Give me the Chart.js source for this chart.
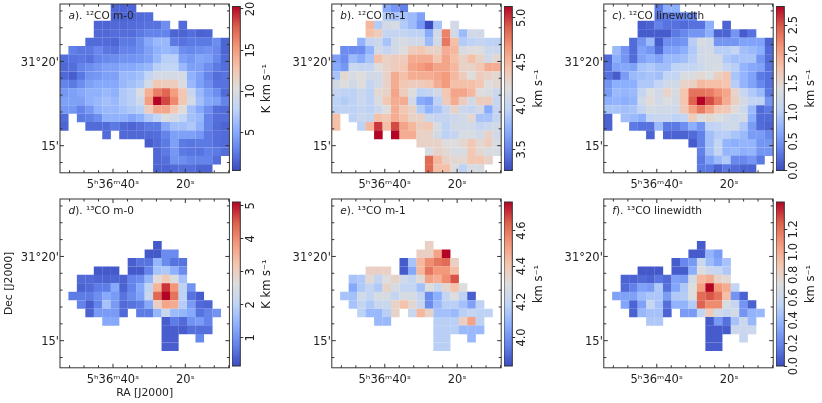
<!DOCTYPE html>
<html>
<head>
<meta charset="utf-8">
<script src="https://cdn.jsdelivr.net/npm/chart.js@4/dist/chart.umd.min.js"></script>
<style>
  body { margin: 0; background: #fff; }
  canvas { position: absolute; }
</style>
</head>
<body>
<script>
const _ = null;

// mapas: filas de arriba a abajo, columnas de izquierda a derecha
const co12M0 = [
  [_,_,_,_,_,_,1.6,1.6,1.6],
  [_,_,_,_,_,_,1.5,1.5,1.6,1.8,1.9],
  [_,_,_,_,1.6,1.6,1.7,1.7,1.8,2.0,2.2,2.2,3.5,_,1.8],
  [_,_,_,_,1.7,1.7,1.9,1.9,1.9,2.5,3.0,3.0,3.0,1.5,1.5,2.0,1.4,1.6],
  [_,_,_,1.8,1.8,1.8,1.6,2.5,2.5,3.5,5.0,6.0,6.0,2.5,2.2,2.5,2.5,2.5,3.5,1.5],
  [_,2.8,2.4,2.4,3.2,2.4,2.2,3.0,3.0,3.5,4.5,5.5,6.0,5.5,3.5,3.2,3.5,3.8,3.2,1.6],
  [1.9,2.2,2.4,2.1,3.0,3.3,3.5,3.8,3.8,4.0,4.5,6.0,7.5,7.5,4.5,4.0,4.8,4.5,3.2,1.8],
  [1.7,1.9,3.0,3.5,4.0,4.5,4.5,5.0,5.0,5.5,6.0,7.5,8.0,8.0,6.0,4.5,4.5,3.5,2.5,2.0],
  [1.7,1.2,2.4,3.8,4.0,4.5,4.5,6.0,6.0,6.5,8.0,9.5,9.5,9.5,9.5,5.5,4.5,3.0,1.9,2.2],
  [3.0,2.5,3.5,4.5,5.0,5.0,5.0,6.0,6.5,7.0,9.5,12.5,12.0,12.0,10.0,6.0,4.5,3.5,2.2,2.2],
  [4.0,4.5,5.0,5.5,5.5,6.0,5.5,7.0,7.5,10.0,14.0,16.5,17.5,15.0,12.5,8.5,6.0,4.5,3.5,1.8],
  [4.5,4.5,4.5,5.5,6.0,6.5,6.0,7.0,7.5,9.0,15.0,20.3,18.5,16.0,12.5,9.5,6.5,5.0,4.5,3.0],
  [4.0,4.0,3.0,4.0,5.5,6.0,6.0,6.5,7.0,7.5,12.0,14.5,14.5,12.5,10.5,6.5,5.0,3.5,2.0,1.8],
  [1.8,_,2.5,2.8,3.5,5.5,5.5,5.5,4.8,5.5,7.0,8.0,10.0,9.5,8.0,6.5,6.0,3.0,2.0,2.0],
  [1.5,_,_,1.8,1.8,1.8,2.5,1.7,1.6,2.0,2.5,2.5,5.0,6.5,6.5,7.0,5.5,3.0,1.8,1.5],
  [_,_,_,_,_,1.8,_,1.7,1.7,1.7,1.8,1.9,3.0,4.5,4.5,4.5,4.0,2.5,2.0,1.8],
  [_,_,_,_,_,_,_,_,_,_,1.2,1.8,2.5,4.5,2.5,2.3,2.5,2.5,2.0,1.8],
  [_,_,_,_,_,_,_,_,_,_,_,1.7,2.5,4.0,2.5,2.3,2.2,2.8,2.5,2.0],
  [_,_,_,_,_,_,_,_,_,_,_,1.7,2.0,3.8,3.5,3.0,3.0,3.0,1.9],
  [_,_,_,_,_,_,_,_,_,_,_,1.5,1.6,1.8,2.0,2.0,1.5,1.5]
];
const co12M1 = [
  [_,_,_,_,_,_,3.7,3.6,3.5],
  [_,_,_,_,_,_,3.9,3.85,3.85,3.8,3.65],
  [_,_,_,_,4.5,3.9,4.1,4.15,3.9,3.8,3.6,3.25,3.85,_,4.1],
  [_,_,_,_,4.45,4.35,4.0,4.0,4.0,3.95,3.95,3.7,4.1,4.75,4.1,3.8,4.1,4.1],
  [_,_,_,3.75,4.0,4.05,3.85,4.1,4.15,4.1,4.1,3.8,4.1,4.8,4.45,3.9,3.95,4.0,3.95,3.95],
  [_,3.55,3.55,3.55,3.75,4.1,4.0,4.1,4.2,4.35,4.4,4.3,4.3,4.55,4.5,4.15,4.2,4.2,4.05,4.05],
  [3.65,3.55,3.8,3.7,3.85,4.45,4.3,4.35,4.35,4.55,4.55,4.55,4.4,4.6,4.45,4.3,4.45,4.3,4.1,4.25],
  [3.7,3.6,4.05,4.0,4.0,4.2,4.3,4.35,4.4,4.6,4.65,4.7,4.6,4.6,4.5,4.3,4.3,4.4,4.55,4.55],
  [3.85,4.25,4.15,4.2,4.1,4.1,4.3,4.55,4.45,4.55,4.55,4.55,4.6,4.65,4.5,4.35,4.2,4.35,4.3,4.25],
  [4.1,4.2,4.1,4.2,4.0,4.1,4.3,4.55,4.4,4.35,4.35,4.4,4.55,4.65,4.45,4.45,4.45,4.4,4.2,4.25],
  [4.0,3.95,3.95,4.05,3.95,4.25,4.3,4.6,4.35,4.2,3.95,4.0,4.1,4.4,4.6,4.6,4.5,4.2,4.15,4.05],
  [3.95,3.9,3.95,4.05,3.95,4.15,4.4,4.55,4.55,4.1,3.7,3.65,3.95,4.35,4.55,4.35,4.1,4.35,4.35,4.0],
  [3.95,3.95,3.95,4.0,3.95,4.05,4.2,4.55,4.4,4.3,3.9,3.75,3.85,4.0,4.3,4.05,4.0,4.1,3.7,4.0],
  [4.45,_,3.95,4.05,4.0,4.45,4.4,4.55,4.45,4.3,4.3,4.05,4.0,4.0,4.05,4.1,4.25,3.85,3.85,4.0],
  [4.45,_,_,3.95,4.5,5.0,4.45,4.95,4.6,4.5,4.35,4.4,4.15,3.95,4.1,4.1,4.1,4.0,4.05,4.1],
  [_,_,_,_,_,5.13,_,5.13,4.55,4.55,4.3,4.3,4.1,3.95,4.0,4.15,4.15,4.1,4.3,4.1],
  [_,_,_,_,_,_,_,_,_,_,4.3,4.3,4.3,4.2,4.2,4.25,4.4,4.25,4.35,4.15],
  [_,_,_,_,_,_,_,_,_,_,_,4.15,4.3,4.25,4.15,4.15,4.4,4.25,4.15,4.15],
  [_,_,_,_,_,_,_,_,_,_,_,4.85,4.5,4.3,4.25,4.25,4.4,4.4,4.3],
  [_,_,_,_,_,_,_,_,_,_,_,4.85,4.45,4.45,4.2,3.95,4.15,4.15]
];
const co12Width = [
  [_,_,_,_,_,_,0.3,0.7,0.7],
  [_,_,_,_,_,_,0.25,0.3,0.35,0.4,0.4],
  [_,_,_,_,0.1,0.15,0.35,0.25,0.25,0.2,0.25,0.25,0.7,_,0.15],
  [_,_,_,_,0.1,0.1,0.1,0.1,0.3,0.4,0.5,0.5,0.7,0.15,0.15,0.5,0.1,0.25],
  [_,_,_,0.2,0.5,0.8,0.1,0.45,0.45,0.5,1.0,1.35,1.25,0.5,0.5,0.5,0.6,0.6,0.6,0.15],
  [_,0.8,0.5,0.2,0.6,0.5,0.2,0.6,0.6,0.7,0.95,1.25,1.3,1.0,1.0,1.1,0.85,0.8,0.7,0.2],
  [0.2,0.7,0.5,0.2,0.6,0.7,0.6,0.8,0.8,0.85,1.0,1.25,1.3,1.3,0.95,0.85,0.9,0.9,0.5,0.2],
  [0.25,0.6,0.65,0.6,0.9,0.95,0.85,0.85,1.05,1.1,1.1,1.2,1.3,1.35,1.1,1.0,0.75,0.65,0.6,0.25],
  [0.25,0.1,0.55,0.8,0.85,0.9,0.85,1.1,1.1,1.35,1.35,1.5,1.4,1.6,1.75,0.9,0.75,0.6,0.3,0.25],
  [0.5,0.7,0.7,0.7,0.95,0.95,1.1,1.25,1.25,1.55,1.6,1.85,1.8,1.8,1.75,1.0,0.75,0.6,0.4,0.25],
  [0.55,0.8,0.75,0.8,1.1,1.4,1.25,1.55,1.35,1.75,2.35,2.35,2.3,2.15,2.0,1.55,1.15,0.95,0.8,0.3],
  [0.7,0.75,0.7,0.75,1.25,1.45,1.25,1.4,1.3,1.75,2.45,2.82,2.55,2.3,1.95,1.6,1.3,1.1,1.05,0.5],
  [0.9,0.9,0.85,0.9,1.1,1.3,1.25,1.25,1.25,1.7,2.05,2.3,2.05,1.75,1.7,1.45,1.2,0.8,0.2,0.3],
  [0.15,_,0.85,0.8,0.7,1.1,1.15,1.15,1.05,1.1,1.65,1.4,1.5,1.4,1.3,1.2,1.3,0.7,0.2,0.2],
  [0.15,_,_,0.3,0.25,0.25,0.8,0.3,0.3,0.45,0.7,0.5,1.05,1.1,1.2,1.25,0.95,0.55,0.2,0.15],
  [_,_,_,_,_,0.15,_,0.15,0.15,0.15,0.2,0.35,0.85,1.0,1.0,0.9,0.8,0.55,0.55,0.4],
  [_,_,_,_,_,_,_,_,_,_,0.1,0.35,0.85,1.1,0.75,0.7,0.75,0.75,0.5,0.5],
  [_,_,_,_,_,_,_,_,_,_,_,0.35,0.85,1.1,0.75,0.8,0.7,0.75,0.5,0.5],
  [_,_,_,_,_,_,_,_,_,_,_,0.3,0.6,0.8,0.95,0.4,0.4,0.5,0.3],
  [_,_,_,_,_,_,_,_,_,_,_,0.3,0.3,0.15,0.3,0.2,0.15,0.15]
];
const co13M0 = [
  [],[],[],[],[],
  [_,_,_,_,_,_,_,_,_,_,_,0.3],
  [_,_,_,_,_,_,_,_,_,_,0.3,0.3,0.9,0.9],
  [_,_,_,_,_,_,_,_,0.35,0.6,0.6,1.5,0.9,0.6,0.6],
  [_,_,_,_,0.3,0.3,0.3,_,0.3,0.3,0.8,1.7,1.8,1.4,0.9],
  [_,_,0.5,0.5,0.45,0.4,0.45,0.4,0.8,0.9,1.5,2.7,3.1,2.6,1.7],
  [_,_,0.4,0.5,0.7,0.7,1.3,0.4,0.8,1.3,2.0,3.5,4.8,3.9,2.0,1.0],
  [_,0.7,0.7,0.7,0.95,1.3,1.1,0.6,0.9,1.2,2.2,4.4,5.12,4.3,2.0,0.6,0.35],
  [_,_,0.8,0.35,0.8,1.7,1.1,0.5,0.6,0.7,1.3,3.0,3.7,3.6,1.9,1.1,0.5,0.45],
  [_,_,_,0.4,1.1,1.1,1.1,0.5,_,0.7,0.7,1.5,2.2,1.6,1.5,1.3,0.6,0.8,1.0],
  [_,_,_,_,_,1.3,1.3,_,_,_,_,_,0.35,0.7,0.5,1.0,1.1,0.8],
  [_,_,_,_,_,_,_,_,_,_,_,_,0.35,0.35,0.35,0.55,0.55,0.55],
  [_,_,_,_,_,_,_,_,_,_,_,_,0.35,0.35,_,_,0.85],
  [_,_,_,_,_,_,_,_,_,_,_,_,0.35,0.35],
  [],[]
];
const co13M1 = [
  [],[],[],[],[],
  [_,_,_,_,_,_,_,_,_,_,_,4.36],
  [_,_,_,_,_,_,_,_,_,_,4.36,4.36,4.5,4.76],
  [_,_,_,_,_,_,_,_,3.87,4.13,4.45,4.55,4.6,4.62,4.36],
  [_,_,_,_,4.36,4.36,4.36,_,3.87,4.05,4.45,4.6,4.53,4.53,4.43],
  [_,_,4.13,4.15,4.32,4.2,4.3,4.35,4.25,4.2,4.32,4.5,4.47,4.55,4.66],
  [_,_,4.05,4.15,4.2,4.15,4.35,4.27,4.2,4.2,4.12,4.3,4.22,4.33,4.42,4.3],
  [_,4.13,4.12,4.25,4.2,4.27,4.27,4.2,4.27,4.27,4.2,3.98,4.07,4.2,4.3,4.18,3.88],
  [_,_,4.13,4.2,4.15,4.22,4.22,4.35,4.42,4.33,4.22,3.98,4.1,4.17,4.17,4.12,4.03,4.18],
  [_,_,_,4.18,4.1,4.1,4.17,4.35,_,4.22,4.45,4.35,4.12,4.12,4.1,4.17,4.2,4.18,4.18],
  [_,_,_,_,_,4.1,4.1,_,_,_,_,_,4.17,4.17,4.17,4.36,4.5,4.18],
  [_,_,_,_,_,_,_,_,_,_,_,_,4.17,4.17,4.17,4.1,4.1,4.1],
  [_,_,_,_,_,_,_,_,_,_,_,_,4.17,4.17,_,_,4.1],
  [_,_,_,_,_,_,_,_,_,_,_,_,4.17,4.17],
  [],[]
];
const co13Width = [
  [],[],[],[],[],
  [_,_,_,_,_,_,_,_,_,_,_,0.05],
  [_,_,_,_,_,_,_,_,_,_,0.05,0.05,0.38,0.28],
  [_,_,_,_,_,_,_,_,0.05,0.2,0.27,0.6,0.42,0.32,0.45],
  [_,_,_,_,0.04,0.04,0.04,_,0.05,0.05,0.35,0.72,0.6,0.58,0.48],
  [_,_,0.08,0.08,0.1,0.08,0.14,0.1,0.3,0.28,0.65,0.95,1.0,0.8,0.75],
  [_,_,0.1,0.18,0.3,0.28,0.48,0.12,0.32,0.48,0.72,1.05,1.44,1.08,1.0,0.55],
  [_,0.3,0.3,0.3,0.42,0.47,0.47,0.28,0.48,0.5,0.72,1.22,1.28,1.2,0.92,0.25,0.08],
  [_,_,0.32,0.08,0.3,0.58,0.45,0.12,0.38,0.38,0.5,1.25,1.12,1.12,0.68,0.58,0.25,0.07],
  [_,_,_,0.07,0.4,0.45,0.45,0.08,_,0.28,0.28,0.55,0.85,0.65,0.58,0.65,0.25,0.38,0.4],
  [_,_,_,_,_,0.48,0.48,_,_,_,_,_,0.05,0.27,0.12,0.45,0.6,0.4],
  [_,_,_,_,_,_,_,_,_,_,_,_,0.05,0.05,0.05,0.6,0.6,0.6],
  [_,_,_,_,_,_,_,_,_,_,_,_,0.05,0.05,_,_,0.58],
  [_,_,_,_,_,_,_,_,_,_,_,_,0.05,0.05],
  [],[]
];

const raTicks = [52, 48, 44, 40, 36, 32, 28, 24, 20, 16, 12, 8];
const raLabels = { 40: '5ʰ36ᵐ40ˢ', 20: '20ˢ' };
const decTicks = [23, 22, 21, 20, 19, 18, 17, 16, 15, 14];
const decLabels = { 20: "31°20'", 15: "15'" };

const titles = ['a', 'b', 'c', 'd', 'e', 'f'];
const titleTexts = ['). ¹²CO m-0', '). ¹²CO m-1', '). ¹²CO linewidth', '). ¹³CO m-0', '). ¹³CO m-1', '). ¹³CO linewidth'];
const barLabels = ['K km s⁻¹', 'km s⁻¹', 'km s⁻¹', 'K km s⁻¹', 'km s⁻¹', 'km s⁻¹'];
const barMin = [0.38, 3.26, 0, 0.15, 3.84, 0];
const barMax = [20.3, 5.13, 2.82, 5.12, 4.76, 1.44];
const barTicks = [
  [5, 10, 15, 20],
  [3.5, 4, 4.5, 5],
  [0, 0.5, 1, 1.5, 2, 2.5],
  [1, 2, 3, 4, 5],
  [4, 4.2, 4.4, 4.6],
  [0, 0.2, 0.4, 0.6, 0.8, 1, 1.2]
];
const barDecimals = [0, 1, 1, 0, 1, 1];
const mapas = [co12M0, co12M1, co12Width, co13M0, co13M1, co13Width];

// geometria de la figura
const RA_MAX = 54.65, RA_MIN = 7.82, DEC_MAX = 23.41, DEC_MIN = 13.39, CELDAS = 20;
const BOX_W = 169.4, BOX_H = 168.8;
const boxLeft = [60, 331.8, 603.8];
const boxTop = [4, 199];
const FUENTE = 'DejaVu Sans';
const TICK_FONT = 11.5;
const MARCO = '#333';

// coolwarm de matplotlib
const coolwarm = [[59,76,192],[98,130,234],[141,176,254],[192,212,245],[221,221,221],[245,196,173],[244,152,122],[222,96,77],[180,4,38]];
function colorMapa(t) {
  t = Math.max(0, Math.min(1, t)) * (coolwarm.length - 1);
  const i = Math.min(Math.floor(t), coolwarm.length - 2);
  const f = t - i;
  const c = coolwarm[i].map((v, k) => Math.round(v + (coolwarm[i + 1][k] - v) * f));
  return `rgb(${c[0]},${c[1]},${c[2]})`;
}

function aPuntos(filas) {
  const puntos = [];
  const dx = (RA_MAX - RA_MIN) / CELDAS, dy = (DEC_MAX - DEC_MIN) / CELDAS;
  filas.forEach((fila, r) => fila.forEach((v, c) => {
    if (v !== null) puntos.push({ x: RA_MAX - (c + 0.5) * dx, y: DEC_MAX - (r + 0.5) * dy, v: v });
  }));
  return puntos;
}

function crearCanvas(left, top, w, h) {
  const cv = document.createElement('canvas');
  cv.width = w; cv.height = h;
  cv.style.left = left + 'px';
  cv.style.top = top + 'px';
  cv.style.width = w + 'px';
  cv.style.height = h + 'px';
  document.body.appendChild(cv);
  return cv.getContext('2d');
}

// las etiquetas no deben empujar el area del grafico
function sinMargenes(s) {
  s.paddingTop = 0; s.paddingBottom = 0; s.paddingLeft = 0; s.paddingRight = 0;
}

// marco y ticks hacia adentro en los cuatro lados, mas la etiqueta del panel
const marcoPanel = {
  id: 'marcoPanel',
  afterDraw(chart, args, opts) {
    const { ctx, chartArea: a, scales } = chart;
    ctx.save();
    ctx.strokeStyle = MARCO;
    ctx.lineWidth = 1;
    ctx.strokeRect(a.left, a.top, a.width, a.height);
    ctx.beginPath();
    raTicks.forEach(t => {
      const px = scales.x.getPixelForValue(t), l = raLabels[t] ? 4 : 2.5;
      ctx.moveTo(px, a.top); ctx.lineTo(px, a.top + l);
      ctx.moveTo(px, a.bottom); ctx.lineTo(px, a.bottom - l);
    });
    decTicks.forEach(t => {
      const py = scales.y.getPixelForValue(t), l = decLabels[t] ? 4 : 2.5;
      ctx.moveTo(a.left, py); ctx.lineTo(a.left + l, py);
      ctx.moveTo(a.right, py); ctx.lineTo(a.right - l, py);
    });
    ctx.stroke();
    ctx.fillStyle = '#222';
    ctx.textBaseline = 'middle';
    const x = a.left + 8.5, y = a.top + 12;
    ctx.font = `italic 10.5px "${FUENTE}"`;
    ctx.fillText(opts.letra, x, y);
    const w = ctx.measureText(opts.letra).width;
    ctx.font = `10.5px "${FUENTE}"`;
    ctx.fillText(opts.texto, x + w, y);
    ctx.restore();
  }
};

// degradado de la barra de color, con su marco y su etiqueta girada
const barraColor = {
  id: 'barraColor',
  beforeDatasetsDraw(chart) {
    const { ctx, chartArea: a } = chart;
    const g = ctx.createLinearGradient(0, a.bottom, 0, a.top);
    coolwarm.forEach((c, i) => g.addColorStop(i / (coolwarm.length - 1), `rgb(${c})`));
    ctx.fillStyle = g;
    ctx.fillRect(a.left, a.top, a.width, a.height);
  },
  afterDraw(chart, args, opts) {
    const { ctx, chartArea: a } = chart;
    ctx.save();
    ctx.strokeStyle = MARCO;
    ctx.lineWidth = 1;
    ctx.strokeRect(a.left, a.top, a.width, a.height);
    ctx.translate(a.right + 27, (a.top + a.bottom) / 2);
    ctx.rotate(-Math.PI / 2);
    ctx.fillStyle = '#222';
    ctx.font = `${TICK_FONT}px "${FUENTE}"`;
    ctx.textAlign = 'center';
    ctx.textBaseline = 'middle';
    ctx.fillText(opts.texto, 0, 0);
    ctx.restore();
  }
};

function crearPanel(i) {
  const col = i % 3, fil = Math.floor(i / 3);
  const left = col === 0 ? 0 : Math.round(boxLeft[col] - 50.8);
  const top = fil === 0 ? 0 : 190;
  const w = Math.ceil(boxLeft[col] + BOX_W + 2 - left);
  const bottom = fil === 0 ? 195 : 403;
  const margenIzq = boxLeft[col] - left;
  const margenAbajo = bottom - (boxTop[fil] + BOX_H);
  const conEjes = i === 3;

  new Chart(crearCanvas(left, top, w, bottom - top), {
    type: 'scatter',
    data: {
      datasets: [{
        data: aPuntos(mapas[i]),
        pointStyle: 'rect',
        pointRadius: 6.1,
        pointHoverRadius: 6.1,
        borderWidth: 0,
        backgroundColor: ctx => colorMapa((ctx.raw.v - barMin[i]) / (barMax[i] - barMin[i]))
      }]
    },
    options: {
      responsive: false,
      animation: false,
      events: [],
      layout: { autoPadding: false, padding: { top: boxTop[fil] - top, right: w - (margenIzq + BOX_W), left: 0, bottom: 0 } },
      plugins: {
        legend: { display: false },
        tooltip: { enabled: false },
        marcoPanel: { letra: titles[i], texto: titleTexts[i] }
      },
      scales: {
        x: {
          type: 'linear',
          reverse: true,
          min: RA_MIN,
          max: RA_MAX,
          grid: { display: false, drawTicks: false },
          border: { display: false },
          title: { display: conEjes, text: 'RA [J2000]', color: '#222', font: { family: FUENTE, size: 10.8 }, padding: { top: 0, bottom: 3 } },
          afterBuildTicks: s => { s.ticks = raTicks.map(v => ({ value: v })); },
          afterFit: s => { s.height = margenAbajo; sinMargenes(s); },
          ticks: {
            autoSkip: false,
            maxRotation: 0,
            minRotation: 0,
            padding: 5,
            color: '#222',
            font: { family: FUENTE, size: TICK_FONT },
            callback: v => raLabels[v] || ''
          }
        },
        y: {
          type: 'linear',
          min: DEC_MIN,
          max: DEC_MAX,
          grid: { display: false, drawTicks: false },
          border: { display: false },
          title: { display: conEjes, text: 'Dec [J2000]', color: '#222', font: { family: FUENTE, size: 10.8 }, padding: { top: 3, bottom: 0 } },
          afterBuildTicks: s => { s.ticks = decTicks.map(v => ({ value: v })); },
          afterFit: s => { s.width = margenIzq; sinMargenes(s); },
          ticks: {
            autoSkip: false,
            padding: 1,
            labelOffset: 1.5,
            color: '#222',
            font: { family: FUENTE, size: TICK_FONT },
            callback: v => decLabels[v] || ''
          }
        }
      }
    },
    plugins: [marcoPanel]
  });
}

function crearBarra(i) {
  const col = i % 3, fil = Math.floor(i / 3);
  const left = Math.round(boxLeft[col] + BOX_W + 3);
  const top = boxTop[fil] + 2.5 - 12;
  const W = 8.3, H = 164;
  const w = 48, h = H + 24;
  const etiquetas = barTicks[i].map(t => t.toFixed(barDecimals[i]));
  // las etiquetas giradas se centran a 10 px de la barra
  const anchoTexto = Math.max(...etiquetas.map(e => e.length * 6.6));
  new Chart(crearCanvas(left, Math.max(top, 0), w, h), {
    type: 'scatter',
    data: { datasets: [{ data: [] }] },
    options: {
      responsive: false,
      animation: false,
      events: [],
      layout: { autoPadding: false, padding: { top: 12 + Math.min(top, 0), bottom: h - 12 - Math.min(top, 0) - H, left: 0, right: 0 } },
      plugins: {
        legend: { display: false },
        tooltip: { enabled: false },
        barraColor: { texto: barLabels[i] }
      },
      scales: {
        x: { display: false },
        y: {
          position: 'right',
          min: barMin[i],
          max: barMax[i],
          grid: { display: true, drawOnChartArea: false, drawTicks: true, tickLength: 3, color: MARCO },
          border: { display: false },
          afterBuildTicks: s => { s.ticks = barTicks[i].map(v => ({ value: v })); },
          afterFit: s => { s.width = w - W; sinMargenes(s); },
          ticks: {
            autoSkip: false,
            minRotation: 90,
            maxRotation: 90,
            crossAlign: 'center',
            padding: 7 - anchoTexto / 2,
            color: '#222',
            font: { family: FUENTE, size: TICK_FONT },
            callback: v => v.toFixed(barDecimals[i])
          }
        }
      }
    },
    plugins: [barraColor]
  });
}

for (let i = 0; i < 6; i++) {
  crearPanel(i);
  crearBarra(i);
}
</script>
</body>
</html>
